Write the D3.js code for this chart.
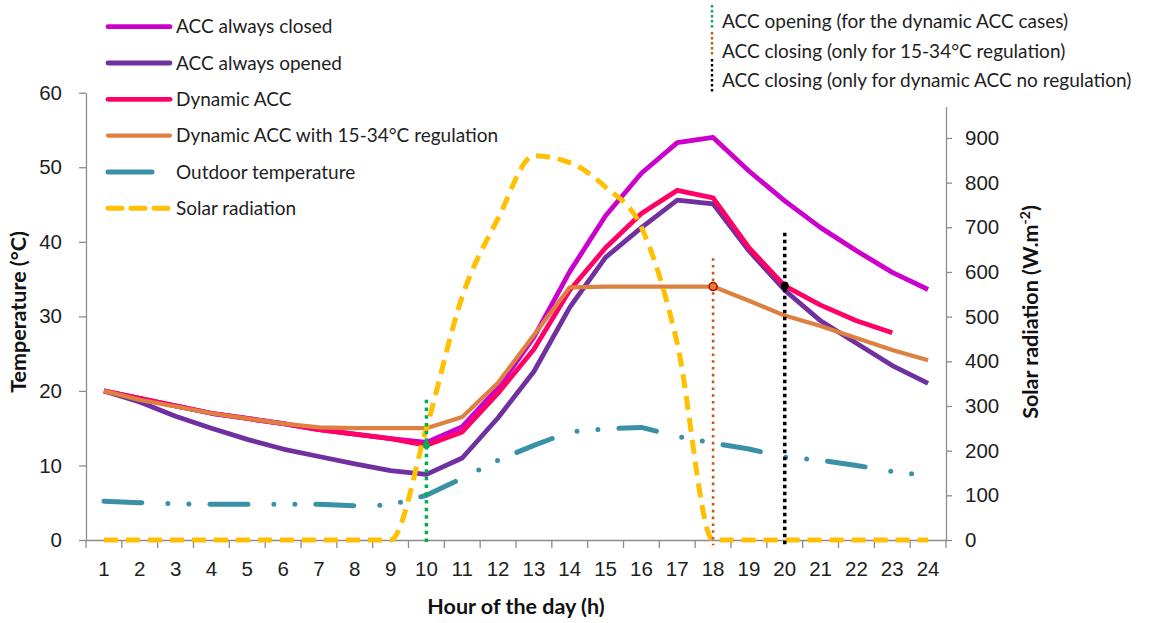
<!DOCTYPE html>
<html>
<head>
<meta charset="utf-8">
<script src="https://cdn.jsdelivr.net/npm/d3@7"></script>
<style>
  body { margin: 0; background: #fff; }
  svg { font-family: Lato, "Open Sans", sans-serif; }
  .axis path, .axis line { stroke: #8c8c8c; stroke-width: 1.3; }
  .axis text { fill: #1e1e1e; font-size: 20.5px; }
</style>
</head>
<body>
<svg width="1149" height="623"></svg>
<script>
const hours = d3.range(1, 25);
const tempTicks = [0, 10, 20, 30, 40, 50, 60];
const solarTicks = [0, 100, 200, 300, 400, 500, 600, 700, 800, 900];

// indoor temperatures (°C)
const accClosed = [20, 19, 18, 17, 16.3, 15.6, 14.8, 14.2, 13.6, 13.1, 15.2, 20.4, 27.2, 36, 43.5, 49.2, 53.3, 54, 49.5, 45.5, 41.9, 38.8, 35.9, 33.6];
const accOpened = [20, 18.5, 16.6, 15, 13.5, 12.2, 11.2, 10.2, 9.3, 8.8, 11, 16.4, 22.6, 31.2, 37.9, 41.9, 45.6, 45.1, 38.8, 33.5, 29.4, 26.4, 23.4, 21];
const dynamicAcc = [20, 19, 18, 17, 16.3, 15.6, 14.8, 14.2, 13.6, 12.7, 14.5, 19.7, 25.6, 33.5, 39.2, 43.8, 46.9, 45.9, 39.2, 34.1, 31.5, 29.4, 27.8, null];
const regulated = [20, 18.8, 17.9, 17, 16.3, 15.6, 15.1, 15, 15, 15, 16.5, 21.1, 27.5, 33.9, 34, 34, 34, 34, 32.1, 30.1, 28.7, 27.1, 25.5, 24.1];
const outdoor = [5.2, 5, 4.85, 4.8, 4.8, 4.8, 4.8, 4.6, 4.7, 6, 8.3, 10.7, 12.7, 14.5, 14.9, 15.1, 13.9, 13, 12.2, 11.1, 10.7, 10, 9.2, 8.6];
// solar radiation (W.m-2)
const solar = [0, 0, 0, 0, 0, 0, 0, 0, 0, 250, 545, 720, 860, 845, 790, 700, 440, 0, 0, 0, 0, 0, 0, 0];

// ACC events: hour, top of the marker line (°C)
const eventHours = [10, 18, 20];
const eventTops = [18.8, 37.8, 41.2];
const eventLabels = [
  "ACC opening (for the dynamic ACC cases)",
  "ACC closing (only for 15-34°C regulation)",
  "ACC closing (only for dynamic ACC no regulation)"
];

const svg = d3.select("svg");
const left = 86, right = 946, bottom = 540;

const x = d3.scaleBand().domain(hours).range([left, right]);
const xEdge = d3.scaleLinear().domain([0, 24]).range([left, right]);
const yT = d3.scaleLinear().domain([0, 60]).range([bottom, 92.7]);
const yS = d3.scaleLinear().domain([0, 970]).range([bottom, 106.7]);
const cx = h => x(h) + x.bandwidth() / 2;

// axes
svg.append("g").attr("class", "axis")
  .attr("transform", `translate(${left},0)`)
  .call(d3.axisLeft(yT).tickValues(tempTicks).tickSize(7).tickSizeOuter(0).tickPadding(17));

svg.append("g").attr("class", "axis")
  .attr("transform", `translate(${right},0)`)
  .call(d3.axisRight(yS).tickValues(solarTicks).tickSize(6).tickSizeOuter(0).tickPadding(13));

const xg = svg.append("g").attr("class", "axis")
  .attr("transform", `translate(0,${bottom})`)
  .call(d3.axisBottom(x).tickSize(0).tickSizeOuter(0).tickPadding(21));
xg.selectAll(".edge").data(d3.range(0, 25)).enter()
  .append("line").attr("class", "edge")
  .attr("x1", d => xEdge(d)).attr("x2", d => xEdge(d))
  .attr("y1", 0).attr("y2", 8);

// axis titles
svg.append("text")
  .attr("transform", "translate(26,312) rotate(-90)")
  .attr("text-anchor", "middle")
  .attr("font-weight", "bold").attr("font-size", 21.5).attr("fill", "#111")
  .text("Temperature (°C)");

const rt = svg.append("text")
  .attr("transform", "translate(1038,312) rotate(-90)")
  .attr("text-anchor", "middle")
  .attr("font-weight", "bold").attr("font-size", 21.5).attr("fill", "#111");
rt.append("tspan").text("Solar radiation (W.m");
rt.append("tspan").attr("dy", -8).attr("font-size", 14).text("-2");
rt.append("tspan").attr("dy", 8).text(")");

svg.append("text")
  .attr("x", 516).attr("y", 614)
  .attr("text-anchor", "middle")
  .attr("font-weight", "bold").attr("font-size", 21.5).attr("fill", "#111")
  .text("Hour of the day (h)");

// series
const series = [
  { name: "ACC always closed", values: accClosed, color: "#cc00cc", width: 4.8, dash: null, y: yT },
  { name: "ACC always opened", values: accOpened, color: "#7030a0", width: 4.8, dash: null, y: yT },
  { name: "Dynamic ACC", values: dynamicAcc, color: "#ff0066", width: 4.8, dash: null, y: yT },
  { name: "Dynamic ACC with 15-34°C regulation", values: regulated, color: "#dd8140", width: 4.2, dash: null, y: yT },
  { name: "Outdoor temperature", values: outdoor, color: "#3a90a6", width: 5, dash: "38 26 0 21 0 21", y: yT },
  { name: "Solar radiation", values: solar, color: "#ffc000", width: 5, dash: "14 8", y: yS }
];

series.forEach(s => {
  const line = d3.line()
    .defined(d => d != null)
    .x((d, i) => cx(hours[i]))
    .y(d => s.y(d))
    .curve(s.y === yS ? d3.curveMonotoneX : d3.curveLinear);
  svg.append("path")
    .datum(s.values)
    .attr("d", line)
    .attr("fill", "none")
    .attr("stroke", s.color)
    .attr("stroke-width", s.width)
    .attr("stroke-linejoin", "round")
    .attr("stroke-linecap", s.dash && s.dash.includes(" 0 ") ? "round" : "butt")
    .attr("stroke-dasharray", s.dash);
});

// ACC event lines
const events = [
  { color: "#00b050", width: 3.5, dash: "3.5 4.2" },
  { color: "#c55a11", width: 2.6, dash: "2.6 4.2" },
  { color: "#000000", width: 3.5, dash: "3.5 3.5" }
];
events.forEach((e, i) => {
  svg.append("line")
    .attr("x1", cx(eventHours[i])).attr("x2", cx(eventHours[i]))
    .attr("y1", yT(eventTops[i])).attr("y2", yT(-0.7))
    .attr("stroke", e.color).attr("stroke-width", e.width)
    .attr("stroke-dasharray", e.dash);
});

// event markers on the curves
svg.append("circle")
  .attr("cx", cx(10)).attr("cy", yT(dynamicAcc[9])).attr("r", 3.5)
  .attr("fill", "#00b050");
svg.append("circle")
  .attr("cx", cx(18)).attr("cy", yT(regulated[17])).attr("r", 4)
  .attr("fill", "#dd8140").attr("stroke", "#c00000").attr("stroke-width", 1.6);
svg.append("circle")
  .attr("cx", cx(20)).attr("cy", yT(dynamicAcc[19])).attr("r", 4)
  .attr("fill", "#000");

// legend, left
const lg = svg.append("g");
const rowY = d => 26.7 + d * 36.3;
series.forEach((s, i) => {
  lg.append("line")
    .attr("x1", 108).attr("x2", s.dash && s.dash.includes(" 0 ") ? 152 : 170)
    .attr("y1", rowY(i)).attr("y2", rowY(i))
    .attr("stroke", s.color).attr("stroke-width", s.width)
    .attr("stroke-linecap", "round")
    .attr("stroke-dasharray", s.y === yS ? "14 9" : null);
  lg.append("text")
    .attr("x", 176).attr("y", rowY(i)).attr("dy", "0.35em")
    .attr("font-size", 19).attr("fill", "#1e1e1e")
    .text(s.name);
});

// legend, right
const rg = svg.append("g");
const segs = [[5, 29], [32, 57], [59, 92]];
events.forEach((e, i) => {
  rg.append("line")
    .attr("x1", 712).attr("x2", 712)
    .attr("y1", segs[i][0]).attr("y2", segs[i][1])
    .attr("stroke", e.color).attr("stroke-width", 2.4)
    .attr("stroke-dasharray", "2.4 2.6");
  rg.append("text")
    .attr("x", 722).attr("y", [21.5, 51.5, 80][i]).attr("dy", "0.35em")
    .attr("font-size", 19).attr("fill", "#1e1e1e")
    .text(eventLabels[i]);
});
</script>
</body>
</html>
